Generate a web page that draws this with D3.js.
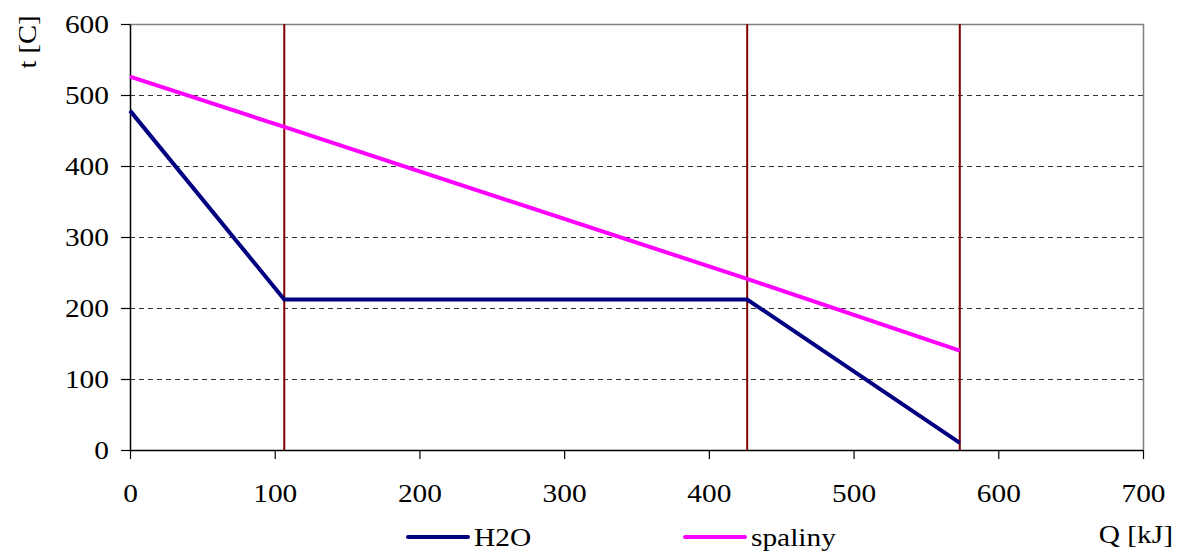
<!DOCTYPE html>
<html><head><meta charset="utf-8">
<script src="https://cdn.jsdelivr.net/npm/d3@7"></script>
<style>body{margin:0;background:#fff}</style>
</head><body><svg id="c" width="1178" height="552"></svg>
<script>
const xTicks = [0,100,200,300,400,500,600,700];
const yTicks = [0,100,200,300,400,500,600];
const h2oQ = [0,106.6,426.5,573.4];
const h2oT = [478,212,212,10];
const spalQ = [0,106.6,426.5,573.4];
const spalT = [526,455,241,140];
const vLines = [106.6,426.5,573.4];
const seriesNames = ["H2O","spaliny"];
const seriesColors = ["#000080","#FF00FF"];

const FONT = "Liberation Serif";
const FS = 26, SX = 1.13;
const svg = d3.select("#c");
const L=130,R=1143,T=24,B=450;
const x = d3.scaleLinear().domain([0,700]).range([L,R]);
const y = d3.scaleLinear().domain([0,600]).range([B,T]);

svg.append("g").selectAll("line").data(yTicks.filter(d=>d>0&&d<600)).join("line")
 .attr("x1",L).attr("x2",R).attr("y1",d=>y(d)+0.5).attr("y2",d=>y(d)+0.5)
 .attr("stroke","#333").attr("stroke-width",1).attr("stroke-dasharray","5,4");
svg.append("path").attr("d",`M${L},${T+0.5}H${R+0.5}V${B}`).attr("fill","none").attr("stroke","#808080").attr("stroke-width",1.5);

const xa = svg.append("g").attr("transform",`translate(0,${B})`)
 .call(d3.axisBottom(x).tickValues(xTicks).tickSize(9).tickSizeOuter(0).tickPadding(25));
const ya = svg.append("g").attr("transform",`translate(${L},0)`)
 .call(d3.axisLeft(y).tickValues(yTicks).tickSize(9).tickSizeOuter(0).tickPadding(12));
[xa,ya].forEach(a=>{a.attr("font-family",FONT).attr("font-size",FS);
 a.select(".domain").attr("stroke","#000").attr("stroke-width",1.5);
 a.selectAll(".tick line").attr("stroke","#000").attr("stroke-width",1.2);
 a.selectAll("text").attr("font-family",FONT).attr("font-size",FS).attr("fill","#000")
  .each(function(){const t=d3.select(this);const xv=+t.attr("x")||0;
    t.attr("x",xv/SX).attr("transform",`scale(${SX},1)`);});});

svg.append("g").selectAll("line").data(vLines).join("line")
 .attr("x1",d=>x(d)).attr("x2",d=>x(d)).attr("y1",T).attr("y2",B)
 .attr("stroke","#800000").attr("stroke-width",2);

const line = d3.line().x(d=>x(d[0])).y(d=>y(d[1]));
svg.append("path").datum(spalQ.map((q,i)=>[q,spalT[i]])).attr("d",line)
 .attr("fill","none").attr("stroke",seriesColors[1]).attr("stroke-width",4);
svg.append("path").datum(h2oQ.map((q,i)=>[q,h2oT[i]])).attr("d",line)
 .attr("fill","none").attr("stroke",seriesColors[0]).attr("stroke-width",4);

function label(px,py,rot,anchor,s,sx){
 svg.append("text").attr("transform",`translate(${px},${py}) rotate(${rot}) scale(${sx||SX},1)`)
  .attr("text-anchor",anchor).attr("font-family",FONT).attr("font-size",FS).attr("fill","#000").text(s);
}
label(36,42,-90,"middle","t [C]",1.1);
label(1173,543,0,"end","Q [kJ]");

const lx=[408,685];
seriesNames.forEach((n,i)=>{
 svg.append("line").attr("x1",lx[i]).attr("x2",lx[i]+60).attr("y1",537).attr("y2",537)
  .attr("stroke",seriesColors[i]).attr("stroke-width",4).attr("stroke-linecap","round");
 label(lx[i]+66,546,0,"start",n);
});
</script></body></html>
